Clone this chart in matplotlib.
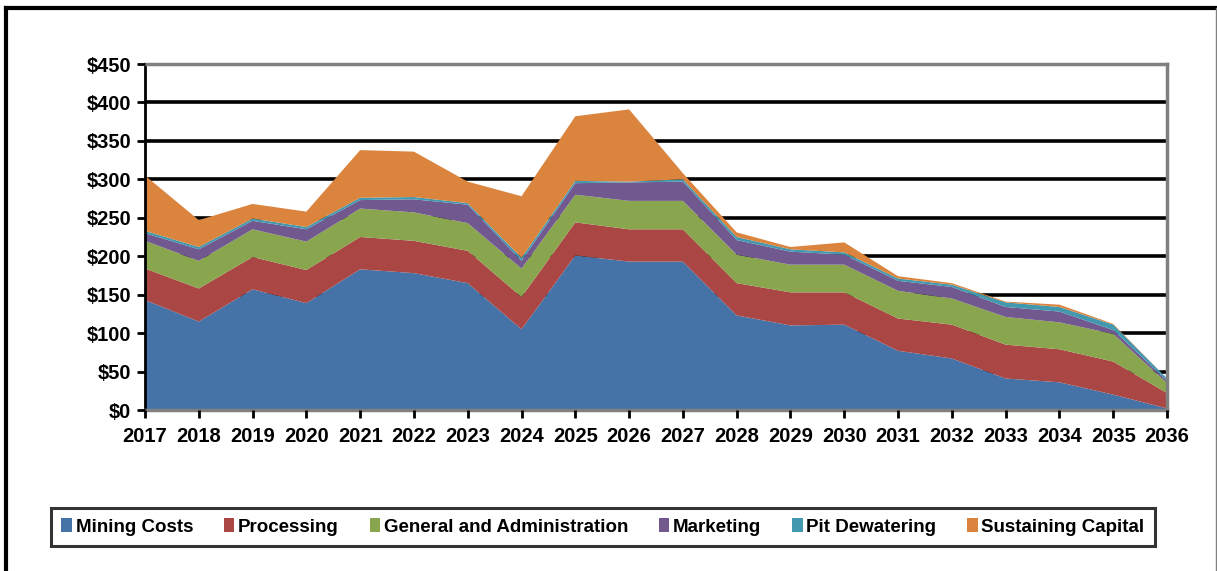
import matplotlib
matplotlib.use("Agg")
import matplotlib.pyplot as plt
from matplotlib.lines import Line2D
from matplotlib.patches import Patch

plt.rcParams['font.family'] = ['Liberation Sans', 'DejaVu Sans']
plt.rcParams['font.weight'] = 'bold'

years = list(range(2017, 2037))

mining = [143, 115, 157, 139, 183, 178, 165, 105, 201, 193,
          193, 123, 110, 111, 77, 67, 41, 36, 20, 2]
processing = [41, 43, 42, 43, 42, 42, 42, 42, 43, 42,
              42, 42, 43, 42, 42, 44, 44, 43, 43, 20]
gen_admin = [36, 36, 36, 37, 37, 37, 36, 37, 36, 37,
             37, 37, 36, 36, 36, 34, 36, 35, 36, 13]
marketing = [10, 15, 11, 16, 11, 17, 24, 10, 15, 24,
             25, 19, 17, 13, 13, 15, 13, 14, 5, 3]
pit_dewatering = [3, 3, 3, 3, 3, 3, 2, 4, 3, 1,
                  3, 4, 3, 3, 3, 3, 6, 6, 7, 3]
sustaining = [72, 35, 19, 20, 62, 59, 28, 80, 84, 94,
              8, 6, 3, 13, 3, 2, 1, 3, 1, 0]

labels = ['Mining Costs', 'Processing', 'General and Administration',
          'Marketing', 'Pit Dewatering', 'Sustaining Capital']
colors = ['#4572A7', '#AA4643', '#89A54E', '#71588F', '#4198AF', '#DB843D']

fig = plt.figure(figsize=(12.17, 5.71), dpi=100)
ax = fig.add_axes([145 / 1217, 1 - 410 / 571, (1167 - 145) / 1217, (410 - 64) / 571])

ax.stackplot(years, mining, processing, gen_admin, marketing,
             pit_dewatering, sustaining, colors=colors, linewidth=0)

ax.set_xlim(2017, 2036)
ax.set_ylim(0, 450)
ax.set_xticks(years)
ax.set_yticks(range(0, 451, 50))
ax.set_yticklabels([f'${v}' for v in range(0, 451, 50)])

# black horizontal gridlines, sitting behind the areas
for v in range(50, 401, 50):
    ax.axhline(v, color='black', linewidth=2.6, zorder=0.5)

for side in ['top', 'right', 'bottom']:
    ax.spines[side].set_color('#808080')
    ax.spines[side].set_linewidth(2.5)
ax.spines['left'].set_color('black')
ax.spines['left'].set_linewidth(2)
ax.set_axisbelow(False)

ax.tick_params(axis='both', direction='out', length=6, width=2,
               colors='black', labelsize=14.5, pad=4)
ax.tick_params(axis='x', pad=6)
for lbl in ax.get_xticklabels() + ax.get_yticklabels():
    lbl.set_fontweight('bold')

# outer chart frame
fig.add_artist(Line2D([6 / 1217, 6 / 1217], [0, 1 - 8 / 571], color='black',
                      linewidth=3, transform=fig.transFigure))
fig.add_artist(Line2D([6 / 1217, 1215.5 / 1217], [1 - 8 / 571, 1 - 8 / 571],
                      color='black', linewidth=3, transform=fig.transFigure))
fig.add_artist(Line2D([1215.5 / 1217, 1215.5 / 1217], [0, 1 - 8 / 571],
                      color='#808080', linewidth=1, transform=fig.transFigure))

handles = [Patch(facecolor=c, edgecolor='none') for c in colors]
leg = fig.legend(handles, labels, loc='center', ncol=6,
                 bbox_to_anchor=(603 / 1217, 1 - 527 / 571),
                 prop={'size': 13.5, 'weight': 'bold'},
                 handlelength=0.55, handleheight=0.75, handletextpad=0.2,
                 columnspacing=1.65, fancybox=False, borderpad=0.55,
                 borderaxespad=0)
leg.get_frame().set_edgecolor('black')
leg.get_frame().set_linewidth(2.2)

fig.savefig('out.png', dpi=100)
